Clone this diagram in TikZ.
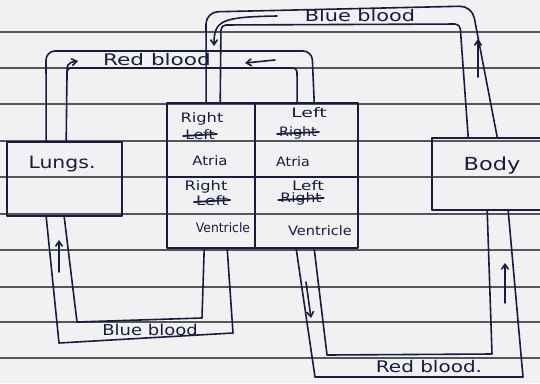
\documentclass[tikz,border=0pt]{standalone}
\usepackage{fontspec}
\setmainfont{DejaVu Sans}
\usepackage{graphicx}
\usetikzlibrary{calc,arrows.meta}
\definecolor{ink}{RGB}{24,28,62}
\definecolor{paper}{RGB}{241,241,243}
\definecolor{rulecol}{RGB}{85,85,92}
\newcommand{\hwide}[2]{\scalebox{#1}[1]{#2}}
\begin{document}
\begin{tikzpicture}[x=1pt,y=-1pt,
  pen/.style={draw=ink,line width=1.6pt,line join=round,line cap=round},
  box/.style={pen,rectangle,inner sep=0pt},
  lbl/.style={text=ink,inner sep=0pt,font=\fontsize{16}{18}\selectfont},
  cell/.style={text=ink,inner sep=0pt,font=\fontsize{13}{15}\selectfont},
  strikeline/.style={draw=ink,line width=1.8pt,line cap=round},
  arr/.style={pen,-{Straight Barb[length=5pt,width=7pt]}},
  ruled/.style={draw=rulecol,line width=1.9pt}]
\useasboundingbox (0,0) rectangle (540,383);
\fill[paper] (0,0) rectangle (540,383);
\clip (0,0) rectangle (540,383);
\foreach \yy in {32,68,104,141,177,214,250,287,322,358}
  \draw[ruled] (0,\yy) -- (540,\yy);

% boxes
\node[box,minimum width=115pt,minimum height=74pt] (lungs) at (64.5,179) {};
\node[box,minimum width=120pt,minimum height=72pt] (body) at (492,174) {};
\node[box,minimum width=88pt,minimum height=74pt] (RA) at (211,140) {};
\node[box,minimum width=103pt,minimum height=74pt] (LA) at (306.5,140) {};
\node[box,minimum width=88pt,minimum height=71pt] (RV) at (211,212.5) {};
\node[box,minimum width=103pt,minimum height=71pt] (LV) at (306.5,212.5) {};

% box texts
\node[lbl,font=\fontsize{17}{19}\selectfont] (lungst) at (62,164) {\hwide{1.2}{Lungs.}};
\node[lbl,font=\fontsize{18}{20}\selectfont] (bodyt) at (492,166) {\hwide{1.25}{Body}};

\node[cell] (ra1) at (202,119) {\hwide{1.25}{Right}};
\node[cell] (ra2) at (200,135) {\hwide{1.2}{Left}};
\node[cell] (ra3) at (210,161) {\hwide{1.15}{Atria}};
\node[cell] (rv1) at (206,187) {\hwide{1.25}{Right}};
\node[cell] (rv2) at (212,201) {\hwide{1.3}{Left}};
\node[cell] (rv3) at (223,228) {\hwide{0.95}{Ventricle}};
\node[cell] (la1) at (309,113) {\hwide{1.45}{Left}};
\node[cell] (la2) at (298,133) {\hwide{1.1}{Right}};
\node[cell] (la3) at (293,162) {\hwide{1.1}{Atria}};
\node[cell] (lv1) at (308,186) {\hwide{1.3}{Left}};
\node[cell] (lv2) at (301,199) {\hwide{1.2}{Right}};
\node[cell] (lv3) at (320,231) {\hwide{1.12}{Ventricle}};
\foreach \n in {ra2,rv2,la2,lv2}
  \draw[strikeline] ($(\n.west)+(-2,1)$) -- ($(\n.east)+(2,-1)$);

% top blue blood (body -> right atrium)
\draw[pen,rounded corners=12pt] ($(RA.north west)+(40,0)$) -- (206,12) -- (472,6) -- ($(body.north west)+(66,0)$);
\draw[pen,rounded corners=5pt] ($(RA.north west)+(54,0)$) -- (221,25) -- (460,24) -- ($(body.north west)+(37,0)$);
\draw[arr] (277,16) .. controls (222,17) and (214,20) .. (214,46);
\draw[arr] (478,77) -- (478,39);
\node[lbl] (bluetop) at (360,16) {\hwide{1.3}{Blue blood}};

% top red blood (lungs -> left atrium)
\draw[pen,rounded corners=9pt] ($(lungs.north west)+(40,0)$) -- (46,51) -- (312,51) -- ($(LA.north west)+(60,0)$);
\draw[pen,rounded corners=4pt] ($(lungs.north west)+(60,0)$) -- (67,68) -- (297,68) -- ($(LA.north west)+(43,0)$);
\draw[arr] (67,80) .. controls (67,63) .. (78,61);
\draw[arr] (275,60) -- (245,63);
\node[lbl] (redtop) at (157,60) {\hwide{1.35}{Red blood}};

% bottom blue blood (right ventricle -> lungs)
\draw[pen] ($(RV.south west)+(61,0)$) -- (233,333) -- (59,343) -- ($(lungs.south west)+(40,0)$);
\draw[pen] ($(RV.south west)+(38,0)$) -- (202,318) -- (77,322) -- ($(lungs.south west)+(58,0)$);
\draw[arr] (59,272) -- (59,240);
\node[lbl,font=\fontsize{15}{17}\selectfont] (bluebot) at (150,330) {\hwide{1.2}{Blue blood}};

% bottom red blood (left ventricle -> body)
\draw[pen] ($(LV.south west)+(42,0)$) -- (315,377) -- (523,377) -- ($(body.south west)+(77,0)$);
\draw[pen] ($(LV.south west)+(60,0)$) -- (327,355) -- (492,354) -- ($(body.south west)+(56,0)$);
\draw[arr] (306,282) -- (311,318);
\draw[arr] (505,303) -- (505,263);
\node[lbl] (redbot) at (429,367) {\hwide{1.25}{Red blood.}};
\end{tikzpicture}
\end{document}
